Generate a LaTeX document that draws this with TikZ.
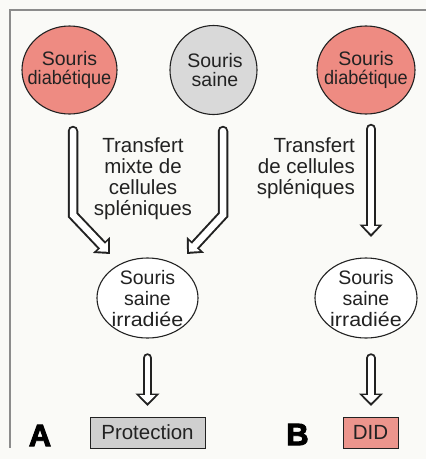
\documentclass[tikz,border=0pt]{standalone}
\usepackage{fontspec}
\setmainfont{Liberation Sans}
\newfontfamily\heavyfont[FakeBold=3]{Liberation Sans}
\usetikzlibrary{shapes.geometric,arrows.meta}
\definecolor{salmon}{HTML}{EE8B82}
\definecolor{lgray}{HTML}{D9D9D9}
\definecolor{bgray}{HTML}{CFCFCF}
\definecolor{didred}{HTML}{EC958D}
\definecolor{ink}{HTML}{222222}
\definecolor{paper}{HTML}{FAFAF7}
\tikzset{
  mouse/.style={ellipse, draw=ink, line width=1.1pt, inner sep=0pt},
  topfont/.style={inner sep=0pt, align=center, text=ink, font=\fontsize{19.5}{18.5}\selectfont},
  lowfont/.style={inner sep=0pt, align=center, text=ink, font=\fontsize{19.5}{21}\selectfont},
  midtext/.style={inner sep=0pt, text=ink, font=\fontsize{20.5}{21.3}\selectfont},
  resbox/.style={draw=ink, line width=1pt, inner sep=0pt, minimum height=31pt, text=ink, font=\fontsize{20.5}{22}\selectfont},
  hollowout/.style={line width=10.5pt, draw=ink, line cap=round, line join=miter, -{Triangle[width=22.5pt,length=12.5pt]}},
  hollowin/.style={line width=6.5pt, draw=white, line cap=round, line join=miter, shorten >=3pt, -{Triangle[width=14.5pt,length=7.8pt]}, shift={(-0.9,-0.9)}},
  hollowoutS/.style={line width=9.5pt, draw=ink, line cap=round, line join=miter, -{Triangle[width=23.5pt,length=12.5pt]}},
  hollowinS/.style={line width=5.6pt, draw=white, line cap=round, shorten >=3pt, -{Triangle[width=15.5pt,length=7.8pt]}, shift={(-0.9,-0.9)}},
  letter/.style={inner sep=0pt, text=black, font=\heavyfont\bfseries\fontsize{31}{31}\selectfont}
}
\begin{document}
\begin{tikzpicture}[x=1pt,y=-1pt]
\useasboundingbox (0,0) rectangle (426,459);
\fill[paper] (0,0) rectangle (426,459);
\draw[gray!90, line width=1.3pt] (426,10) -- (10,10) -- (10,448);

% top mice
\node[mouse, fill=salmon, minimum width=95pt, minimum height=88pt] (d1) at (69.5,70) {};
\node[topfont] (d1t) at (d1.center) {Souris\\\scalebox{0.93}[1]{diabétique}};
\node[mouse, fill=lgray, minimum width=87pt, minimum height=89pt] (s1) at (213.5,70) {};
\node[topfont] (s1t) at ([xshift=1.5pt]s1.center) {Souris\\saine};
\node[mouse, fill=salmon, minimum width=98pt, minimum height=88pt] (d2) at (366,70) {};
\node[topfont] (d2t) at (d2.center) {Souris\\\scalebox{0.93}[1]{diabétique}};

% middle texts
\node[midtext, align=center, anchor=north] (t1) at (143,137) {Transfert\\mixte de\\cellules\\spléniques};
\node[midtext, align=right, anchor=north east] (t2) at (355,137) {Transfert\\de cellules\\spléniques};

% lower mice
\node[mouse, fill=white, minimum width=101pt, minimum height=80pt] (r1) at (147.5,298) {};
\node[lowfont] (r1t) at ([yshift=-1pt]r1.center) {Souris\\saine\\\scalebox{1.1}[1]{irradiée}};
\node[mouse, fill=white, minimum width=102pt, minimum height=80pt] (r2) at (366,298) {};
\node[lowfont] (r2t) at ([yshift=-1pt]r2.center) {Souris\\saine\\\scalebox{1.1}[1]{irradiée}};

% results
\node[resbox, fill=bgray, minimum width=115pt] (p) at (147.5,432.5) {Protection};
\node[resbox, fill=didred, minimum width=55pt] (did) at (370.5,432.5) {DID};
\node[letter] (A) at (40,435.5) {A};
\node[letter] (B) at (297.5,434.5) {B};

% arrow coordinates
\coordinate (a1s) at (73,131);
\coordinate (a1b) at (73,215);
\coordinate (a1e) at (110,254);
\coordinate (a2s) at (223,131);
\coordinate (a2b) at (223,215);
\coordinate (a2e) at (187,254);
\coordinate (a3s) at (371,129);
\coordinate (a3e) at (371,237);
\coordinate (a4s) at (147.5,358);
\coordinate (a4e) at (147.5,406);
\coordinate (a5s) at (371,358);
\coordinate (a5e) at (371,406);

\draw[hollowout] (a1s) -- (a1b) -- (a1e);
\draw[hollowin]  (a1s) -- (a1b) -- (a1e);
\draw[hollowout] (a2s) -- (a2b) -- (a2e);
\draw[hollowin]  (a2s) -- (a2b) -- (a2e);
\draw[hollowout] (a3s) -- (a3e);
\draw[hollowin]  (a3s) -- (a3e);
\draw[hollowoutS] (a4s) -- (a4e);
\draw[hollowinS]  (a4s) -- (a4e);
\draw[hollowoutS] (a5s) -- (a5e);
\draw[hollowinS]  (a5s) -- (a5e);
\end{tikzpicture}
\end{document}
